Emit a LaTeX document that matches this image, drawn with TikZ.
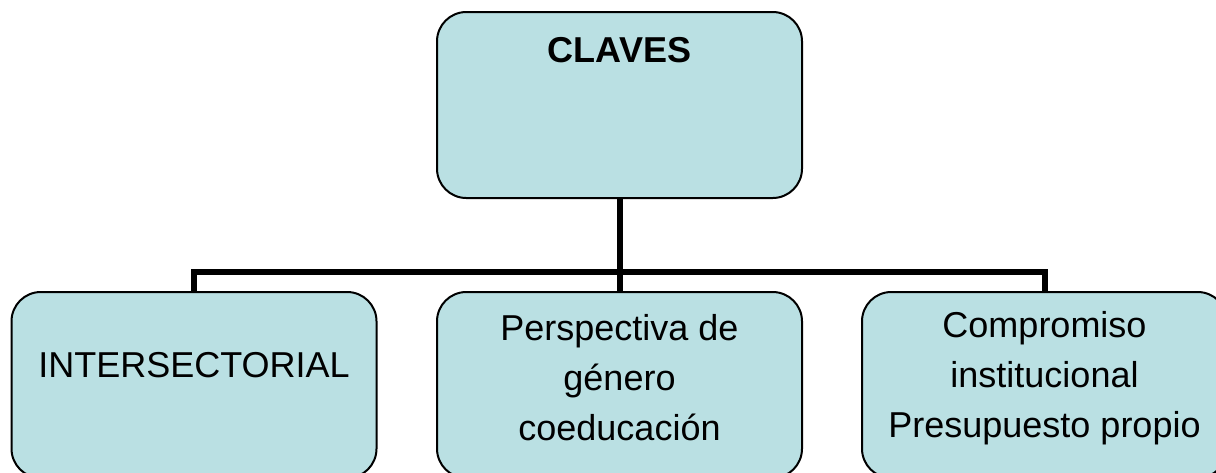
\documentclass[tikz,border=0pt]{standalone}
\usepackage{fontspec}
\setmainfont{Liberation Sans}
\definecolor{boxfill}{RGB}{186,224,227}
\begin{document}
\begin{tikzpicture}[x=0.75pt,y=-0.75pt,
  keybox/.style={draw=black, line width=1.5pt, fill=boxfill, rounded corners=22pt,
    minimum width=273.75pt, minimum height=139.5pt, inner sep=0pt},
  keytext/.style={align=center, font=\fontsize{27}{37.5}\selectfont, inner sep=0pt},
  link/.style={line width=4.5pt, draw=black}]
\useasboundingbox (0,0) rectangle (1216,472);
\clip (0,0) rectangle (1216,472);
\coordinate (bar) at (619.5,272);
\node[keybox] (top) at (619.5,105) {};
\node[keybox] (left) at (194,385) {};
\node[keybox] (mid) at (619.5,385) {};
\node[keybox] (right) at (1044.5,385) {};
\draw[link] (top.south) -- (mid.north);
\draw[link] (left.north) |- (bar) -| (right.north);
\node[keytext, font=\fontsize{27}{37.5}\selectfont\bfseries] (ttop) at (619.5,50) {CLAVES};
\node[keytext] (tleft) at (194,365) {INTERSECTORIAL};
\node[keytext] (tmid) at (619.5,378) {Perspectiva de\\género\\coeducación};
\node[keytext] (tright) at (1044.5,378) {Compromiso\\institucional\\Presupuesto propio};
\end{tikzpicture}
\end{document}
